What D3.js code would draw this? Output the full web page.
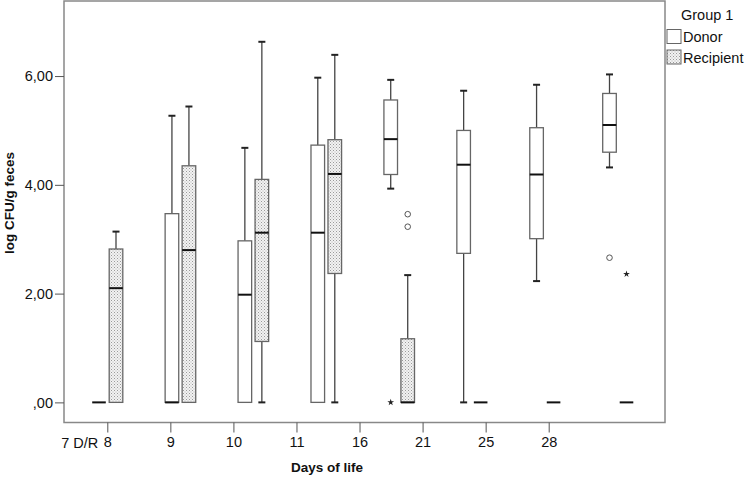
<!DOCTYPE html>
<html>
<head>
<meta charset="utf-8">
<script src="https://cdn.jsdelivr.net/npm/d3@7"></script>
<style>
  body { margin: 0; background: #fff; }
  text { font-family: "Liberation Sans", Arial, sans-serif; fill: #111; }
</style>
</head>
<body>
<script>
// data
var days = ["8", "9", "10", "11", "16", "21", "25", "28"];
var yTicks = [0, 2, 4, 6];

// donor: whisker low, q1, median, q3, whisker high
var donorLo  = [0, 0, 0, 0, 3.93, 0, 2.23, 4.32];
var donorQ1  = [0, 0, 0, 0, 4.19, 2.74, 3.01, 4.60];
var donorMed = [0, 0, 1.98, 3.12, 4.84, 4.37, 4.19, 5.10];
var donorQ3  = [0, 3.47, 2.97, 4.73, 5.56, 5.00, 5.05, 5.68];
var donorHi  = [0, 5.27, 4.68, 5.97, 5.93, 5.73, 5.84, 6.03];

var recLo  = [0, 0, 0, 0, 0, 0, 0, 0];
var recQ1  = [0, 0, 1.12, 2.37, 0, 0, 0, 0];
var recMed = [2.10, 2.80, 3.12, 4.20, 0, 0, 0, 0];
var recQ3  = [2.82, 4.35, 4.10, 4.83, 1.17, 0, 0, 0];
var recHi  = [3.14, 5.44, 6.63, 6.39, 2.34, 0, 0, 0];

// outliers: [day, group, value, kind]
var outliers = [
  ["16", "Recipient", 3.46, "o"],
  ["16", "Recipient", 3.23, "o"],
  ["16", "Donor", 0, "*"],
  ["28", "Donor", 2.66, "o"],
  ["28", "Recipient", 2.36, "*"]
];

var W = 750, H = 479;
var pl = 64, pr = 665, pt = 1, pb = 422.5;
var fs = 14.5;

var svg = d3.select("body").append("svg")
    .attr("width", W)
    .attr("height", H);

var defs = svg.append("defs");
var pat = defs.append("pattern")
    .attr("id", "dots")
    .attr("width", 3).attr("height", 3)
    .attr("patternUnits", "userSpaceOnUse");
pat.append("rect").attr("width", 3).attr("height", 3).attr("fill", "#f2f2f2");
pat.append("rect").attr("x", 0).attr("y", 0).attr("width", 1).attr("height", 1).attr("fill", "#9a9a9a");
pat.append("rect").attr("x", 1.5).attr("y", 1.5).attr("width", 1).attr("height", 1).attr("fill", "#b5b5b5");

var y = d3.scaleLinear().domain([-0.37, 7.38]).range([pb, pt]);
var xTick = d3.scalePoint().domain(days).range([107.3, 548.7]);
var xBox = d3.scalePoint().domain(days).range([107.5, 618]);
var off = { Donor: -8.5, Recipient: 8.5 };
var bw = 13.6;

// frame
svg.append("rect")
    .attr("x", pl).attr("y", pt)
    .attr("width", pr - pl).attr("height", pb - pt)
    .attr("fill", "none").attr("stroke", "#888").attr("stroke-width", 1.5);

// y axis
var yAxis = d3.axisLeft(y).tickValues(yTicks).tickSize(9)
    .tickFormat(function(d) { return d === 0 ? ",00" : d3.format(".2f")(d).replace(".", ","); });
var gy = svg.append("g").attr("transform", "translate(" + pl + ",0)").call(yAxis);
gy.select(".domain").remove();
gy.selectAll(".tick line").attr("stroke", "#555");
gy.selectAll(".tick text").attr("font-size", fs).attr("fill", "#111").attr("x", -11)
    .style("font-family", "'Liberation Sans', Arial, sans-serif");

// x axis
var xAxis = d3.axisBottom(xTick).tickSize(10);
var gx = svg.append("g").attr("transform", "translate(0," + pb + ")").call(xAxis);
gx.select(".domain").remove();
gx.selectAll(".tick line").attr("stroke", "#555");
gx.selectAll(".tick text").attr("font-size", fs).attr("fill", "#111").attr("y", 14)
    .style("font-family", "'Liberation Sans', Arial, sans-serif");

svg.append("text")
    .attr("x", xTick("8") - 9).attr("y", 448)
    .attr("text-anchor", "end").attr("font-size", fs)
    .text("7 D/R");

// titles
svg.append("text")
    .attr("x", 327).attr("y", 472)
    .attr("text-anchor", "middle").attr("font-size", 13.5).attr("font-weight", "bold")
    .text("Days of life");

svg.append("text")
    .attr("transform", "translate(14,203) rotate(-90)")
    .attr("text-anchor", "middle").attr("font-size", 13.5).attr("font-weight", "bold")
    .text("log CFU/g feces");

// boxes
var rows = [];
days.forEach(function(d, i) {
  rows.push({ day: d, g: "Donor", lo: donorLo[i], q1: donorQ1[i], med: donorMed[i], q3: donorQ3[i], hi: donorHi[i] });
  rows.push({ day: d, g: "Recipient", lo: recLo[i], q1: recQ1[i], med: recMed[i], q3: recQ3[i], hi: recHi[i] });
});

var cx = function(d) { return xBox(d.day) + off[d.g]; };

var box = svg.selectAll("g.box")
    .data(rows)
  .enter().append("g")
    .attr("class", "box");

// whiskers
box.filter(function(d) { return d.hi > d.q3; }).append("line")
    .attr("x1", cx).attr("x2", cx)
    .attr("y1", function(d) { return y(d.q3); }).attr("y2", function(d) { return y(d.hi); })
    .attr("stroke", "#444").attr("stroke-width", 1.3);
box.filter(function(d) { return d.hi > d.q3; }).append("line")
    .attr("x1", function(d) { return cx(d) - 3.5; }).attr("x2", function(d) { return cx(d) + 3.5; })
    .attr("y1", function(d) { return y(d.hi); }).attr("y2", function(d) { return y(d.hi); })
    .attr("stroke", "#222").attr("stroke-width", 2);
box.filter(function(d) { return d.lo < d.q1; }).append("line")
    .attr("x1", cx).attr("x2", cx)
    .attr("y1", function(d) { return y(d.q1); }).attr("y2", function(d) { return y(d.lo); })
    .attr("stroke", "#444").attr("stroke-width", 1.3);
box.filter(function(d) { return d.lo < d.q1; }).append("line")
    .attr("x1", function(d) { return cx(d) - 3.5; }).attr("x2", function(d) { return cx(d) + 3.5; })
    .attr("y1", function(d) { return y(d.lo); }).attr("y2", function(d) { return y(d.lo); })
    .attr("stroke", "#222").attr("stroke-width", 2);

box.filter(function(d) { return d.q3 > d.q1; }).append("rect")
    .attr("x", function(d) { return cx(d) - bw / 2; })
    .attr("y", function(d) { return y(d.q3); })
    .attr("width", bw)
    .attr("height", function(d) { return y(d.q1) - y(d.q3); })
    .attr("fill", function(d) { return d.g === "Donor" ? "#fff" : "url(#dots)"; })
    .attr("stroke", "#666").attr("stroke-width", 1.3);

// median
box.append("line")
    .attr("x1", function(d) { return cx(d) - bw / 2; }).attr("x2", function(d) { return cx(d) + bw / 2; })
    .attr("y1", function(d) { return y(d.med); }).attr("y2", function(d) { return y(d.med); })
    .attr("stroke", "#111").attr("stroke-width", 2);

// outliers
var ox = function(d) { return xBox(d[0]) + off[d[1]]; };
svg.selectAll("circle.out")
    .data(outliers.filter(function(d) { return d[3] === "o"; }))
  .enter().append("circle")
    .attr("class", "out")
    .attr("cx", ox).attr("cy", function(d) { return y(d[2]); })
    .attr("r", 2.8)
    .attr("fill", "none").attr("stroke", "#555").attr("stroke-width", 1);
svg.selectAll("path.ext")
    .data(outliers.filter(function(d) { return d[3] === "*"; }))
  .enter().append("path")
    .attr("class", "ext")
    .attr("transform", function(d) { return "translate(" + ox(d) + "," + y(d[2]) + ")"; })
    .attr("d", d3.symbol().type(d3.symbolStar).size(14))
    .attr("fill", "#222");

// legend
var legend = [["Donor", "#fff"], ["Recipient", "url(#dots)"]];
svg.append("text").attr("x", 681).attr("y", 20).attr("font-size", fs).text("Group 1");
var lg = svg.selectAll("g.lg").data(legend).enter().append("g").attr("class", "lg")
    .attr("transform", function(d, i) { return "translate(667," + (29.5 + i * 20.5) + ")"; });
lg.append("rect").attr("width", 14).attr("height", 14)
    .attr("fill", function(d) { return d[1]; }).attr("stroke", "#666").attr("stroke-width", 1);
lg.append("text").attr("x", 16).attr("y", 12.5).attr("font-size", fs).text(function(d) { return d[0]; });
</script>
</body>
</html>
